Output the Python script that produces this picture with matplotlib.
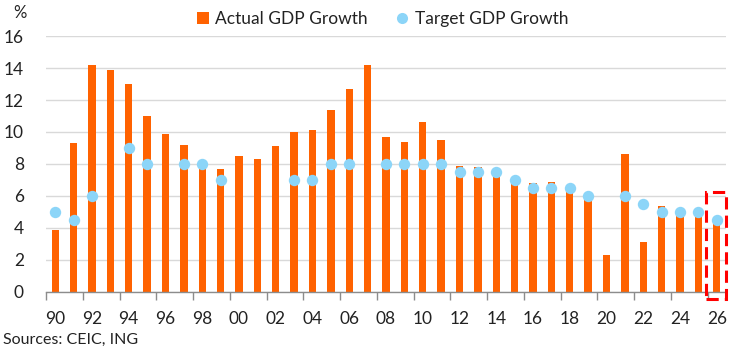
import matplotlib
matplotlib.use('Agg')
import matplotlib.pyplot as plt
from matplotlib.patches import Rectangle
from matplotlib.lines import Line2D
import numpy as np

plt.rcParams['font.family'] = ['Lato', 'DejaVu Sans']

years = list(range(1990, 2027))
year_labels = [f'{y % 100:02d}' for y in years]

actual_growth = [
    3.9, 9.3, 14.2, 13.9, 13.0, 11.0, 9.9, 9.2, 7.8, 7.7,
    8.5, 8.3, 9.1, 10.0, 10.1, 11.4, 12.7, 14.2, 9.7, 9.4,
    10.6, 9.5, 7.9, 7.8, 7.4, 7.0, 6.8, 6.9, 6.7, 6.0,
    2.3, 8.6, 3.1, 5.4, 5.0, 5.0, 4.5,
]

# nan = no target announced that year
nan = np.nan
target_growth = [
    5.0, 4.5, 6.0, nan, 9.0, 8.0, nan, 8.0, 8.0, 7.0,
    nan, nan, nan, 7.0, 7.0, 8.0, 8.0, nan, 8.0, 8.0,
    8.0, 8.0, 7.5, 7.5, 7.5, 7.0, 6.5, 6.5, 6.5, 6.0,
    nan, 6.0, 5.5, 5.0, 5.0, 5.0, 4.5,
]

series_names = ['Actual GDP Growth', 'Target GDP Growth']

ORANGE = '#FF6200'
BLUE = '#8CD5F8'

fig = plt.figure(figsize=(7.49, 3.52), dpi=100)
ax = fig.add_axes([0.0614, 0.1705, 0.9079, 0.7272])

x = np.arange(len(years))
ax.bar(x, actual_growth, width=0.4, color=ORANGE, zorder=2)
ax.plot(x, target_growth, linestyle='none', marker='o', markersize=8.2,
        color=BLUE, markeredgewidth=0, zorder=3)

ax.set_ylim(0, 16)
ax.set_yticks(range(0, 17, 2))
ax.set_xlim(-0.5, len(years) - 0.5)
ax.yaxis.grid(True, color='#D9D9D9', linewidth=1)
ax.set_axisbelow(True)

ax.set_xticks(x[::2])
ax.set_xticklabels(year_labels[::2])
ax.set_xticks(np.arange(-0.5, len(years), 2), minor=True)
ax.tick_params(axis='x', which='major', length=0, pad=14, labelsize=12.5,
               colors='#222222')
ax.tick_params(axis='x', which='minor', length=6, width=1, color='#8C8C8C')
ax.tick_params(axis='y', length=0, pad=16, labelsize=12.5, colors='#222222')

for side in ['top', 'right', 'left']:
    ax.spines[side].set_visible(False)
ax.spines['bottom'].set_color('#8C8C8C')
ax.spines['bottom'].set_linewidth(1)

# forecast box around 2026
last = len(years) - 1
ax.add_patch(Rectangle((last - 0.6, -0.45), 1.1, 6.7, fill=False,
                       edgecolor='#FF0000', linewidth=2.2,
                       linestyle=(0, (4, 2)), clip_on=False, zorder=4))

fig.text(0.027, 0.963, '%', fontsize=12, color='#222222', ha='center',
         va='center')
fig.text(0.004, 0.033, 'Sources: CEIC, ING', fontsize=11.5, color='#222222',
         ha='left', va='center')

h_bar = Line2D([], [], linestyle='none', marker='s', markersize=9,
               color=ORANGE, markeredgewidth=0)
h_dot = Line2D([], [], linestyle='none', marker='o', markersize=8,
               color=BLUE, markeredgewidth=0)
fig.legend([h_bar, h_dot], series_names, ncol=2, frameon=False,
           loc='center', bbox_to_anchor=(0.51, 0.946), fontsize=12.5,
           handlelength=0.8, handletextpad=0.3, columnspacing=1.6,
           labelcolor='#222222')

fig.savefig('out.png', dpi=100)
